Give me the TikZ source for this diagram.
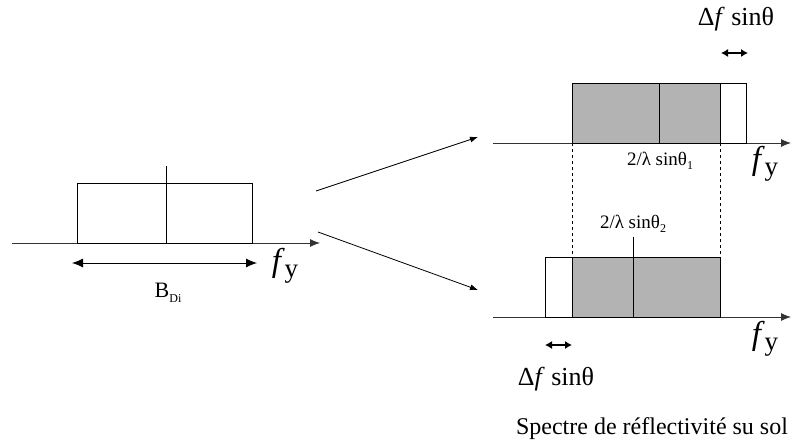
\documentclass[tikz,border=0pt]{standalone}
\usepackage{fontspec}
\setmainfont{Liberation Serif}
\usetikzlibrary{arrows.meta}
\usetikzlibrary{positioning}
\definecolor{bandgray}{RGB}{179,179,179}
\newcommand{\fy}{\textit{f}\raisebox{-0.4ex}{\fontsize{27}{29}\selectfont y}}
\newcommand{\lowsub}[1]{\raisebox{-0.45ex}{\fontsize{12}{13}\selectfont #1}}

\begin{document}
\begin{tikzpicture}[x=1pt,y=-1pt,line width=0.8pt,
  axis/.style={-{Latex[length=10pt,width=8pt]},draw=black!80},
  span/.style={{Latex[length=11pt,width=9pt]}-{Latex[length=11pt,width=9pt]}},
  shift arrow/.style={line width=1.2pt,{Latex[length=7pt,width=8pt]}-{Latex[length=7pt,width=8pt]}},
  map arrow/.style={-{Latex[length=8pt,width=6pt]}},
  band/.style={draw,fill=bandgray},
  axis label/.style={font=\fontsize{33}{35}\selectfont,inner sep=0pt},
  small label/.style={font=\fontsize{19}{21}\selectfont,inner sep=0pt},
  delta label/.style={font=\fontsize{26}{28}\selectfont,inner sep=0pt}]

  \useasboundingbox (0,0) rectangle (792,446);

  % spectre d'origine
  \coordinate (L0) at (12,243);
  \coordinate (L1) at (320,243);
  \draw[axis] (L0) -- (L1);
  \draw (77,243) rectangle (252,183);
  \draw (166,243) -- (166,166);
  \coordinate (BL) at (72,263);
  \coordinate (BR) at (257,263);
  \draw[span] (BL) -- (BR);
  \node[axis label] at (285,266) (fyL) {\fy};
  \node[font=\fontsize{22}{24}\selectfont,inner sep=0pt] at (168,293) (bdi) {B\lowsub{Di}};

  % passage vers les deux spectres
  \coordinate (M1a) at (316,191);
  \coordinate (M1b) at (478,137);
  \coordinate (M2a) at (318,232);
  \coordinate (M2b) at (478,290);
  \draw[map arrow] (M1a) -- (M1b);
  \draw[map arrow] (M2a) -- (M2b);

  % spectre du haut
  \coordinate (U0) at (493,143);
  \coordinate (U1) at (791,143);
  \draw[axis] (U0) -- (U1);
  \draw[band] (572,143) rectangle (720,83);
  \draw (720,143) rectangle (746,83);
  \draw (659,143) -- (659,83);
  \node[small label] at (660,161) (th1) {2/λ sinθ\lowsub{1}};
  \node[axis label] at (765,164) (fyU) {\fy};
  \coordinate (DU0) at (721,53);
  \coordinate (DU1) at (748,53);
  \draw[shift arrow] (DU0) -- (DU1);
  \node[delta label] at (736,19) (dfU) {Δ\textit{f} sinθ};

  % repères en pointillés
  \draw[dashed,line width=0.6pt] (572,143) -- (572,257);
  \draw[dashed,line width=0.6pt] (720,143) -- (720,257);

  % spectre du bas
  \coordinate (D0) at (493,317);
  \coordinate (D1) at (791,317);
  \draw[axis] (D0) -- (D1);
  \draw (545,317) rectangle (572,257);
  \draw[band] (572,317) rectangle (720,257);
  \draw (633,317) -- (633,237);
  \node[small label] at (633,224) (th2) {2/λ sinθ\lowsub{2}};
  \node[axis label] at (765,339) (fyD) {\fy};
  \coordinate (DD0) at (545,345);
  \coordinate (DD1) at (572,345);
  \draw[shift arrow] (DD0) -- (DD1);
  \node[delta label] at (556,379) (dfD) {Δ\textit{f} sinθ};

  \node[font=\fontsize{24}{26}\selectfont,inner sep=0pt] at (652,429) (caption) {Spectre de réflectivité su sol};
\end{tikzpicture}
\end{document}
